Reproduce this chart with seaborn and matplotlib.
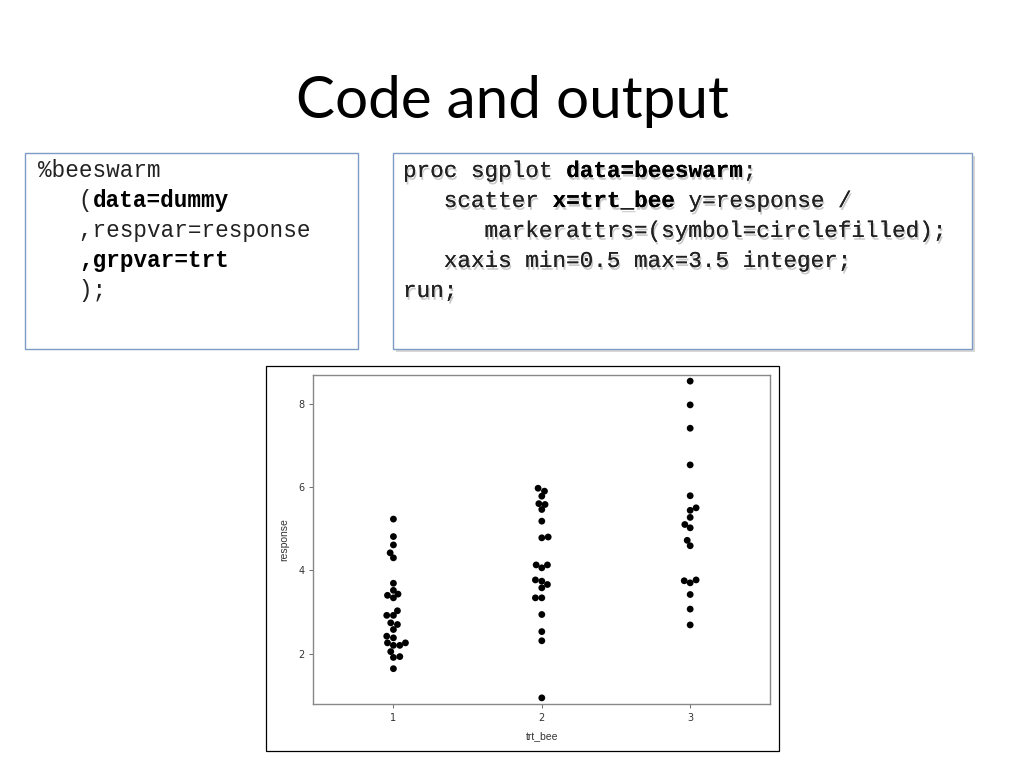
#!/usr/bin/env python3
# -*- coding: utf-8 -*-
import matplotlib
matplotlib.use('Agg')
import matplotlib.pyplot as plt
import matplotlib.patheffects as pe
from matplotlib.patches import Rectangle
import seaborn as sns
import pandas as pd

# beeswarm output: x offset (trt_bee) and response for each group
trt_bee_1 = [1.0, 1.0, 1.0, 0.978, 1.0, 1.0, 1.0, 0.960, 1.031, 1.0, 1.027, 0.955, 1.0,
             0.982, 1.027, 1.0, 0.955, 1.0, 0.960, 1.0, 1.043, 1.081, 0.982, 1.0, 1.043, 1.0]
response_1 = [5.23, 4.81, 4.61, 4.42, 4.30, 3.69, 3.52, 3.40, 3.43, 3.34, 3.03, 2.92, 2.92,
              2.74, 2.70, 2.58, 2.42, 2.38, 2.26, 2.20, 2.20, 2.26, 2.05, 1.91, 1.93, 1.64]

trt_bee_2 = [1.975, 2.018, 2.0, 1.980, 2.022, 2.0, 2.0, 2.0, 2.043, 1.962, 2.0, 2.038,
             1.957, 2.0, 2.0, 2.038, 1.957, 2.0, 2.0, 2.0, 2.0, 2.0]
response_2 = [5.97, 5.90, 5.78, 5.60, 5.58, 5.46, 5.18, 4.78, 4.80, 4.13, 4.06, 4.13,
              3.77, 3.74, 3.58, 3.66, 3.34, 3.34, 2.94, 2.53, 2.31, 0.94]

trt_bee_3 = [3.0, 3.0, 3.0, 3.0, 3.0, 3.040, 3.0, 3.0, 2.964, 3.0, 2.980, 3.0,
             2.960, 3.0, 3.040, 3.0, 3.0, 3.0]
response_3 = [8.54, 7.97, 7.41, 6.53, 5.79, 5.50, 5.44, 5.27, 5.10, 5.02, 4.72, 4.59,
              3.75, 3.70, 3.77, 3.42, 3.07, 2.69]

yticks = [2, 4, 6, 8]
xticks = [1, 2, 3]

left_code = [
    [('%beeswarm', False)],
    [('   (', False), ('data=dummy', True)],
    [('   ,respvar=response', False)],
    [('   ', False), (',grpvar=trt', True)],
    [('   );', False)],
]
right_code = [
    [('proc sgplot ', False), ('data=beeswarm', True), (';', False)],
    [('   scatter ', False), ('x=trt_bee', True), (' y=response /', False)],
    [('      markerattrs=(symbol=circlefilled);', False)],
    [('   xaxis min=0.5 max=3.5 integer;', False)],
    [('run;', False)],
]

df = pd.DataFrame({
    'trt_bee': trt_bee_1 + trt_bee_2 + trt_bee_3,
    'response': response_1 + response_2 + response_3,
})

W, H = 1024, 768
fig = plt.figure(figsize=(10.24, 7.68), dpi=100)
fig.patch.set_facecolor('white')

# title
fig.text(512 / W, 1 - 102 / H, 'Code and output', ha='center', va='center',
         fontsize=42, family='Lato', color='black')

# code boxes
box_col = '#7e9bc3'
fig.patches.append(Rectangle((25 / W, 1 - 349 / H), 333 / W, 196 / H, transform=fig.transFigure,
                             facecolor='white', edgecolor=box_col, lw=1.0, zorder=-2))
fig.patches.append(Rectangle((396 / W, 1 - 352 / H), 579 / W, 196 / H, transform=fig.transFigure,
                             facecolor='#d8d8d8', edgecolor='none', lw=0, zorder=-3))
fig.patches.append(Rectangle((393 / W, 1 - 349 / H), 579 / W, 196 / H, transform=fig.transFigure,
                             facecolor='white', edgecolor=box_col, lw=1.0, zorder=-2))

cw = 13.6  # px per monospace character
fs = 16.3


def draw_code(lines, x0, y0, shadow):
    for i, line in enumerate(lines):
        col = 0
        for txt, bold in line:
            kw = {}
            if shadow:
                kw['path_effects'] = [pe.withSimplePatchShadow(offset=(1, -2), shadow_rgbFace='#888888', alpha=0.45),
                                      pe.Normal()]
            fig.text((x0 + col * cw) / W, 1 - (y0 + i * 30) / H, txt, ha='left', va='baseline',
                     family='Liberation Mono', fontsize=fs, color='black' if bold else '#222222',
                     fontweight='bold' if bold else 'normal', **kw)
            col += len(txt)


draw_code(left_code, 38, 177, False)
draw_code(right_code, 403, 177, True)

# plot image border (behind the axes)
fig.patches.append(Rectangle((266 / W, 1 - 751 / H), 513 / W, 385 / H, transform=fig.transFigure,
                             facecolor='white', edgecolor='black', lw=0.9, zorder=-2))

ax = fig.add_axes([313.3 / W, 1 - 703.7 / H, 457 / W, 328.4 / H])
sns.scatterplot(data=df, x='trt_bee', y='response', ax=ax, color='black', s=24,
                edgecolor='none', marker='o')
ax.set_xlim(0.46, 3.54)
ax.set_ylim(0.8, 8.68)
ax.set_xticks(xticks)
ax.set_yticks(yticks)
ax.tick_params(labelsize=7, colors='#333333', length=3, width=0.6)
ax.tick_params(axis='both', color='#555555')
for sp in ax.spines.values():
    sp.set_color('#888888')
    sp.set_linewidth(1.0)
ax.set_xlabel('trt_bee', fontsize=7.5, color='#333333', family='Liberation Sans', labelpad=6)
ax.set_ylabel('response', fontsize=7.5, color='#333333', family='Liberation Sans', labelpad=6)

plt.savefig('out.png', dpi=100)
